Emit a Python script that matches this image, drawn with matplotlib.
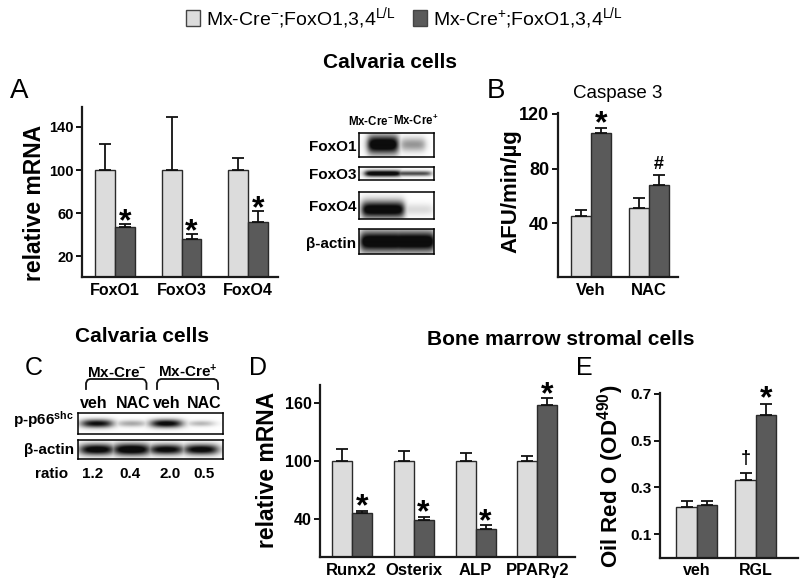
import numpy as np
import matplotlib
matplotlib.use('Agg')
import matplotlib.pyplot as plt
from matplotlib.patches import Patch

plt.rcParams['font.family'] = ['Liberation Sans', 'DejaVu Sans']
plt.rcParams['mathtext.fontset'] = 'custom'
plt.rcParams['mathtext.rm'] = 'Liberation Sans'
plt.rcParams['mathtext.bf'] = 'Liberation Sans:bold'
plt.rcParams['mathtext.it'] = 'Liberation Sans:italic'

# ---- data ----
# A: FoxO mRNA in calvaria cells
foxo_genes = ['FoxO1', 'FoxO3', 'FoxO4']
foxo_ctrl = [100, 100, 100]
foxo_ctrl_err = [24, 49, 11]
foxo_ko = [47, 36, 52]
foxo_ko_err = [3, 5, 10]
foxo_marks = ['*', '*', '*']

# B: caspase 3
casp_groups = ['Veh', 'NAC']
casp_ctrl = [45.4, 51.5]
casp_ctrl_err = [4, 7]
casp_ko = [106.4, 68]
casp_ko_err = [3.6, 7.4]
casp_marks = ['*', '#']

# D: bone marrow stromal cells
bmsc_genes = ['Runx2', 'Osterix', 'ALP', 'PPARγ2']
bmsc_ctrl = [100, 100, 100, 100]
bmsc_ctrl_err = [13, 10, 8, 5]
bmsc_ko = [46.6, 39.3, 29.2, 158]
bmsc_ko_err = [2, 3, 4.5, 7]
bmsc_marks = ['*', '*', '*', '*']

# E: oil red O
oil_groups = ['veh', 'RGL']
oil_ctrl = [0.218, 0.331]
oil_ctrl_err = [0.025, 0.03]
oil_ko = [0.224, 0.608]
oil_ko_err = [0.019, 0.049]

# western blots (relative band darkness)
blot_a_cols = [r'Mx-Cre$^{\mathbf{-}}$', r'Mx-Cre$^{\mathbf{+}}$']
blot_a_rows = ['FoxO1', 'FoxO3', 'FoxO4', 'β-actin']
blot_a_signal = [[1.0, 0.35], [0.95, 0.6], [0.95, 0.12], [1.0, 1.0]]

blot_c_groups = [r'Mx-Cre$^{\mathbf{-}}$', r'Mx-Cre$^{\mathbf{+}}$']
blot_c_lanes = ['veh', 'NAC', 'veh', 'NAC']
blot_c_rows = [r'p-p66$^{\mathbf{shc}}$', 'β-actin']
blot_c_signal = [[0.85, 0.3, 0.9, 0.25], [0.95, 1.0, 0.9, 0.92]]
blot_c_ratio = ['1.2', '0.4', '2.0', '0.5']

legend_labels = [r'Mx-Cre$^{-}$;FoxO1,3,4$^{\mathrm{L/L}}$',
                 r'Mx-Cre$^{+}$;FoxO1,3,4$^{\mathrm{L/L}}$']

LIGHT = '#dcdcdc'
DARK = '#5a5a5a'
EDGE = '#2a2a2a'

W, H = 800, 585
fig = plt.figure(figsize=(8, 5.85), dpi=100)


def px_axes(l, t, r, b):
    return fig.add_axes([l / W, 1 - b / H, (r - l) / W, (b - t) / H])


def bar_panel(box, ctrl, ctrl_err, ko, ko_err, labels, xlim, ylim, yticks,
              yticklabels, width, ytick_fs, xtick_fs):
    ax = px_axes(*box)
    x = np.arange(len(ctrl))
    n = len(ctrl)
    ax.bar(x - width / 2, ctrl, width, color=LIGHT, edgecolor=EDGE, lw=1, zorder=2)
    ax.bar(x + width / 2, ko, width, color=DARK, edgecolor=EDGE, lw=1, zorder=2)
    ax.errorbar(x - width / 2, ctrl, yerr=[np.zeros(n), ctrl_err], fmt='none',
                ecolor='#111111', elinewidth=1.3, capsize=4, capthick=1.3, zorder=3)
    ax.errorbar(x + width / 2, ko, yerr=[np.zeros(n), ko_err], fmt='none',
                ecolor='#111111', elinewidth=1.3, capsize=4, capthick=1.3, zorder=3)
    ax.set_xlim(*xlim)
    ax.set_ylim(*ylim)
    ax.set_xticks(x)
    ax.set_xticklabels(labels, fontweight='bold', fontsize=xtick_fs)
    ax.set_yticks(yticks)
    ax.set_yticklabels(yticklabels, fontweight='bold', fontsize=ytick_fs)
    ax.tick_params(axis='x', length=0, pad=4)
    ax.tick_params(axis='y', direction='out', length=4, width=1.3, pad=2)
    for s in ['top', 'right']:
        ax.spines[s].set_visible(False)
    for s in ['left', 'bottom']:
        ax.spines[s].set_linewidth(1.6)
        ax.spines[s].set_color('#1a1a1a')
    ax.patch.set_alpha(0)
    return ax, x


def mark(ax, xpos, top, text, size, off):
    ax.annotate(text, (xpos, top), xytext=(0, off), textcoords='offset points',
                ha='center', va='baseline', fontsize=size, fontweight='bold',
                annotation_clip=False)


# panel A
w = 0.30
axA, xa = bar_panel((82, 107, 278, 277), foxo_ctrl, foxo_ctrl_err, foxo_ko,
                    foxo_ko_err, foxo_genes, (-0.496, 2.45), (1, 158.5),
                    [20, 60, 100, 140], ['20', '60', '100', '140'], w, 10.5, 11.5)
for i, m in enumerate(foxo_marks):
    mark(axA, xa[i] + w / 2, foxo_ko[i] + foxo_ko_err[i], m, 23, -4.5)

# panel B
w = 0.345
axB, xb = bar_panel((557.7, 113, 678, 277), casp_ctrl, casp_ctrl_err, casp_ko,
                    casp_ko_err, casp_groups, (-0.574, 1.5), (0.7, 120.7),
                    [40, 80, 120], ['40', '80', '120'], w, 13, 12)
mark(axB, xb[0] + w / 2, casp_ko[0] + casp_ko_err[0], casp_marks[0], 23, -3.5)
mark(axB, xb[1] + w / 2, casp_ko[1] + casp_ko_err[1], casp_marks[1], 13, 4)

# panel D
w = 0.323
axD, xd = bar_panel((320, 385, 575, 557), bmsc_ctrl, bmsc_ctrl_err, bmsc_ko,
                    bmsc_ko_err, bmsc_genes, (-0.512, 3.607), (0.5, 179),
                    [40, 100, 160], ['40', '100', '160'], w, 11.5, 12)
for i, m in enumerate(bmsc_marks):
    mark(axD, xd[i] + w / 2, bmsc_ko[i] + bmsc_ko_err[i], m, 23, -3.5)

# panel E
w = 0.344
axE, xe = bar_panel((660, 393, 798, 557.7), oil_ctrl, oil_ctrl_err, oil_ko,
                    oil_ko_err, oil_groups, (-0.622, 1.717), (0, 0.703),
                    [0.1, 0.3, 0.5, 0.7], ['0.1', '0.3', '0.5', '0.7'], w, 11, 11.5)
mark(axE, xe[1] - w / 2, oil_ctrl[1] + oil_ctrl_err[1], '†', 13, 7)
mark(axE, xe[1] + w / 2, oil_ko[1] + oil_ko_err[1], '*', 23, -2.5)


# western blots
def blot(box, signal, centers, hw, hh, vc):
    ax = px_axes(*box)
    u = np.linspace(0, 1, 300)
    v = np.linspace(0, 1, 80)
    U, V = np.meshgrid(u, v)
    dark = np.zeros_like(U)
    for s, c, a, b in zip(signal, centers, hw, hh):
        pxp = 1 / (1 + np.exp((np.abs(U - c) - a) / 0.025))
        pyp = np.exp(-((V - vc) / b) ** 2)
        dark = np.maximum(dark, s * pxp * pyp)
    img = 1 - np.clip(dark * 1.25, 0, 1) * 0.95
    ax.imshow(img, cmap='gray', vmin=0, vmax=1, extent=(0, 1, 0, 1),
              origin='lower', aspect='auto', interpolation='bilinear')
    ax.set_xticks([])
    ax.set_yticks([])
    for s in ax.spines.values():
        s.set_linewidth(1.1)
    return ax


a_boxes = [(359, 132.7, 434, 157.3), (359, 167.3, 434, 180),
           (359, 192.3, 434, 218.7), (359, 229, 434, 254)]
a_geom = [([0.2, 0.16], [0.38, 0.28], 0.5), ([0.24, 0.24], [0.25, 0.2], 0.5),
          ([0.28, 0.26], [0.32, 0.22], 0.35), ([0.3, 0.29], [0.42, 0.42], 0.5)]
for bx, sig, (hw, hh, vc) in zip(a_boxes, blot_a_signal, a_geom):
    blot(bx, sig, [0.32, 0.72], hw, hh, vc)

c_boxes = [(78, 413, 223, 434), (78, 440, 223, 459)]
c_geom = [([0.1, 0.09, 0.1, 0.08], [0.2, 0.16, 0.2, 0.14], 0.5),
          ([0.11, 0.12, 0.11, 0.11], [0.3, 0.32, 0.28, 0.28], 0.5)]
for bx, sig, (hw, hh, vc) in zip(c_boxes, blot_c_signal, c_geom):
    blot(bx, sig, [0.13, 0.37, 0.61, 0.85], hw, hh, vc)

# overlay for text and brackets (pixel coordinates)
ov = fig.add_axes([0, 0, 1, 1])
ov.set_xlim(0, W)
ov.set_ylim(H, 0)
ov.axis('off')

ov.text(390, 68, 'Calvaria cells', ha='center', va='baseline', fontsize=15, fontweight='bold')
ov.text(618, 98, 'Caspase 3', ha='center', va='baseline', fontsize=13.5)
ov.text(142, 341.5, 'Calvaria cells', ha='center', va='baseline', fontsize=15, fontweight='bold')
ov.text(561, 345, 'Bone marrow stromal cells', ha='center', va='baseline', fontsize=15,
        fontweight='bold')

for lx, ly, s, fs in [(19, 98, 'A', 20), (496, 98, 'B', 20), (34, 375, 'C', 18),
                      (258, 375, 'D', 18), (584, 375, 'E', 18)]:
    ov.text(lx, ly, s, ha='center', va='baseline', fontsize=fs)

ov.text(35, 203, 'relative mRNA', rotation=90, ha='center', va='center', fontsize=16.5,
        fontweight='bold')
ov.text(511, 191, 'AFU/min/µg', rotation=90, ha='center', va='center', fontsize=16,
        fontweight='bold')
ov.text(268, 470, 'relative mRNA', rotation=90, ha='center', va='center', fontsize=16.5,
        fontweight='bold')
ov.text(611, 476, r'Oil Red O (OD$^{\mathbf{490}}$)', rotation=90, ha='center',
        va='center', fontsize=16, fontweight='bold')

# blot A labels
for cx, s in zip([371, 416], blot_a_cols):
    ov.text(cx, 125, s, ha='center', va='baseline', fontsize=8.3, fontweight='bold')
for by, s in zip([151, 179, 211, 248], blot_a_rows):
    ov.text(356, by, s, ha='right', va='baseline', fontsize=11, fontweight='bold')

# blot C labels
for cx, s in zip([117, 188], blot_c_groups):
    ov.text(cx, 377, s, ha='center', va='baseline', fontsize=11, fontweight='bold')
for x0, x1 in [(86, 146.5), (157, 218)]:
    bx = [x0, x0, x0 + 1.5, x0 + 4, x1 - 4, x1 - 1.5, x1, x1]
    by = [389, 383, 380, 379, 379, 380, 383, 389]
    ov.plot(bx, by, color='#111111', lw=1.3)
for cx, s in zip([94, 133, 167, 204], blot_c_lanes):
    ov.text(cx, 408, s, ha='center', va='baseline', fontsize=11.5, fontweight='bold')
for by, s in zip([425, 454], blot_c_rows):
    ov.text(74, by, s, ha='right', va='baseline', fontsize=11, fontweight='bold')
ov.text(52, 478, 'ratio', ha='center', va='baseline', fontsize=11, fontweight='bold')
for cx, s in zip([93, 130, 170, 204], blot_c_ratio):
    ov.text(cx, 478, s, ha='center', va='baseline', fontsize=11, fontweight='bold')

# legend
handles = [Patch(facecolor=LIGHT, edgecolor='#444444', lw=1),
           Patch(facecolor=DARK, edgecolor='#444444', lw=1)]
fig.legend(handles, legend_labels, loc='center', bbox_to_anchor=(404 / W, 1 - 18 / H),
           ncol=2, frameon=False, fontsize=14, handlelength=0.72, handleheight=0.9,
           handletextpad=0.3, columnspacing=0.9, borderpad=0)

fig.savefig('out.png', dpi=100)
